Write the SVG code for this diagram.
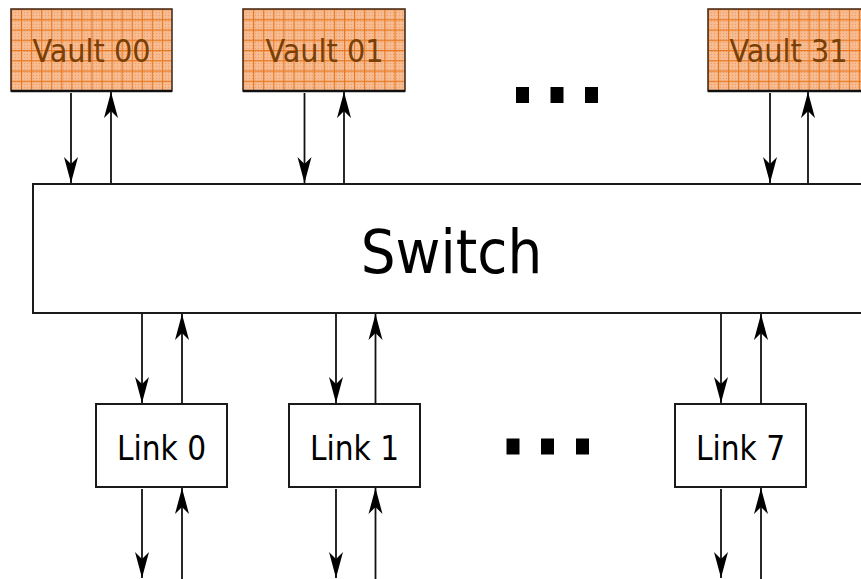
<svg xmlns="http://www.w3.org/2000/svg" width="861" height="579" viewBox="0 0 861 579">
  <style>
    .box { fill: #ffffff; stroke: #1a1a1a; stroke-width: 2; }
    .vault { stroke: #4a3020; stroke-width: 1.6; }
    .vaultBase { stroke: #111111; stroke-width: 2.4; }
    .grid { stroke: #e8761c; stroke-width: 1.1; }
    .label { font-family: "DejaVu Sans Condensed", "DejaVu Sans", "Liberation Sans", sans-serif; font-stretch: condensed; text-anchor: middle; fill: #000000; }
    .vlabel { font-size: 32px; fill: #7a3f05; }
    .llabel { font-size: 33px; }
    .slabel { font-size: 61px; }
    .wire { stroke: #111111; stroke-width: 1.8; fill: none; marker-end: url(#head); }
    .dot { fill: #000000; }
  </style>
  <defs>
    <marker id="head" viewBox="-27 -8 27 16" markerWidth="27" markerHeight="16" refX="0" refY="0" markerUnits="userSpaceOnUse" orient="auto">
      <path d="M0,0 L-26,-7 L-19,0 L-26,7 Z" fill="#000000"/>
    </marker>
    <pattern id="stipple" width="3" height="3" patternUnits="userSpaceOnUse">
      <rect width="3" height="3" fill="#f6b88c"/>
      <rect x="0" y="0" width="1" height="1" fill="#eaa070"/>
      <rect x="1.5" y="1.5" width="1" height="1" fill="#f9c9a4"/>
    </pattern>
    <pattern id="cells00" x="11" y="9" width="10.06" height="10.25" patternUnits="userSpaceOnUse">
      <path class="grid" d="M0.5,0 V10.25 M0,0.5 H10.06"/>
    </pattern>
    <pattern id="cells01" x="243" y="9" width="10.1" height="10.25" patternUnits="userSpaceOnUse">
      <path class="grid" d="M0.5,0 V10.25 M0,0.5 H10.1"/>
    </pattern>
    <pattern id="cells31" x="708" y="9" width="10.06" height="10.25" patternUnits="userSpaceOnUse">
      <path class="grid" d="M0.5,0 V10.25 M0,0.5 H10.06"/>
    </pattern>
  </defs>

  <!-- memory vaults -->
  <g id="vault00">
    <rect x="11" y="9" width="161" height="82" fill="url(#stipple)"/>
    <rect x="11" y="9" width="161" height="82" fill="url(#cells00)"/>
    <rect class="vault" x="11" y="9" width="161" height="82" fill="none"/>
    <line class="vaultBase" x1="11" y1="91" x2="172" y2="91"/>
    <text class="label vlabel" x="91.5" y="62">Vault 00</text>
  </g>
  <g id="vault01">
    <rect x="243" y="9" width="162" height="82" fill="url(#stipple)"/>
    <rect x="243" y="9" width="162" height="82" fill="url(#cells01)"/>
    <rect class="vault" x="243" y="9" width="162" height="82" fill="none"/>
    <line class="vaultBase" x1="243" y1="91" x2="405" y2="91"/>
    <text class="label vlabel" x="324.5" y="62">Vault 01</text>
  </g>
  <g id="vault31">
    <rect x="708" y="9" width="161" height="82" fill="url(#stipple)"/>
    <rect x="708" y="9" width="161" height="82" fill="url(#cells31)"/>
    <rect class="vault" x="708" y="9" width="161" height="82" fill="none"/>
    <line class="vaultBase" x1="708" y1="91" x2="869" y2="91"/>
    <text class="label vlabel" x="788.5" y="62">Vault 31</text>
  </g>
  <g id="vaultEllipsis">
    <rect class="dot" x="516" y="87" width="13" height="16"/>
    <rect class="dot" x="550.5" y="87" width="13" height="16"/>
    <rect class="dot" x="585" y="87" width="13" height="16"/>
  </g>

  <!-- crossbar switch -->
  <g id="switch">
    <rect class="box" x="33" y="184" width="840" height="129"/>
    <text class="label slabel" x="451.5" y="273">Switch</text>
  </g>

  <!-- external links -->
  <g id="link0">
    <rect class="box" x="96" y="404" width="131" height="83"/>
    <text class="label llabel" x="161.5" y="460">Link 0</text>
  </g>
  <g id="link1">
    <rect class="box" x="289" y="404" width="131" height="83"/>
    <text class="label llabel" x="354.5" y="460">Link 1</text>
  </g>
  <g id="link7">
    <rect class="box" x="675" y="404" width="131" height="83"/>
    <text class="label llabel" x="740.5" y="460">Link 7</text>
  </g>
  <g id="linkEllipsis">
    <rect class="dot" x="506.5" y="438.5" width="13" height="16"/>
    <rect class="dot" x="541" y="438.5" width="13" height="16"/>
    <rect class="dot" x="576" y="438.5" width="13" height="16"/>
  </g>

  <!-- request / response paths -->
  <g id="connectors">
    <line class="wire" x1="71" y1="93" x2="71" y2="183"/>
    <line class="wire" x1="111" y1="183" x2="111" y2="92"/>
    <line class="wire" x1="304.5" y1="93" x2="304.5" y2="183"/>
    <line class="wire" x1="344" y1="183" x2="344" y2="92"/>
    <line class="wire" x1="770" y1="93" x2="770" y2="183"/>
    <line class="wire" x1="808" y1="183" x2="808" y2="92"/>

    <line class="wire" x1="142" y1="314" x2="142" y2="403"/>
    <line class="wire" x1="182" y1="404" x2="182" y2="314"/>
    <line class="wire" x1="336" y1="314" x2="336" y2="403"/>
    <line class="wire" x1="375.5" y1="404" x2="375.5" y2="314"/>
    <line class="wire" x1="721" y1="314" x2="721" y2="403"/>
    <line class="wire" x1="761" y1="404" x2="761" y2="314"/>

    <line class="wire" x1="142" y1="489" x2="142" y2="578"/>
    <line class="wire" x1="182" y1="582" x2="182" y2="488"/>
    <line class="wire" x1="336" y1="489" x2="336" y2="578"/>
    <line class="wire" x1="375.5" y1="582" x2="375.5" y2="488"/>
    <line class="wire" x1="721" y1="489" x2="721" y2="578"/>
    <line class="wire" x1="761" y1="582" x2="761" y2="488"/>
  </g>
</svg>
